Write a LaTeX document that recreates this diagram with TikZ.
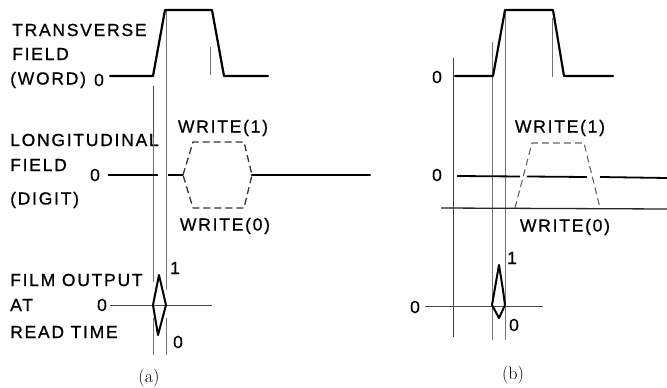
\documentclass[tikz,border=0pt]{standalone}
\usepackage{fontspec}
\setsansfont{Liberation Sans}[LetterSpace=10,FakeBold=0.8]
\begin{document}
\begin{tikzpicture}[x=1pt,y=-1pt,
  wave/.style={line width=2.2pt, line join=round, line cap=round, black},
  mid/.style={line width=1.8pt, black},
  guide/.style={line width=0.9pt, black!55},
  dsh/.style={line width=1.3pt, black!80, dash pattern=on 7pt off 4pt, line join=round},
  lbl/.style={font=\sffamily\fontsize{17.5}{20}\selectfont, inner sep=0pt, anchor=west},
  dig/.style={font=\sffamily\fontsize{17.5}{20}\selectfont, inner sep=0pt},
  captxt/.style={font=\rmfamily\fontsize{18}{20}\selectfont, inner sep=0pt}]
\useasboundingbox (0,0) rectangle (667,388);
\fill[white] (0,0) rectangle (667,388);

% ---------------- panel (a) ----------------
% left labels
\node[lbl] (ta1) at (12,30) {TRANSVERSE};
\node[lbl] (ta2) at (12,54) {FIELD};
\node[lbl] (ta3) at (10,80) {(WORD)};
\node[dig] (ta0) at (99,80) {0};
\node[lbl] (la1) at (10,140) {LONGITUDINAL};
\node[lbl] (la2) at (10,165) {FIELD};
\node[lbl] (la3) at (10,200) {(DIGIT)};
\node[dig] (la0) at (95,175) {0};
\node[lbl] (fa1) at (10,280) {FILM OUTPUT};
\node[lbl] (fa2) at (10,305) {AT};
\node[lbl] (fa3) at (10,332) {READ TIME};
\node[dig] (fa0) at (102,305) {0};

% guide lines
\draw[line width=1pt, green!45!black] (153,86) -- (153,137);
\draw[guide] (153,137) -- (153,282);
\draw[guide] (153,318) -- (153,355);
\draw[guide] (166,10) -- (166,290);
\draw[guide] (166,318) -- (166,355);
\draw[guide] (210,47) -- (210,75);

% transverse waveform
\draw[wave] (110,76) -- (153,76) -- (165,10) -- (212,10) -- (224,76) -- (268,76);

% longitudinal
\draw[mid] (108,175) -- (158,175);
\draw[mid] (168,175) -- (183,175);
\draw[dsh] (183,175) -- (193,142) -- (244,142) -- (252,175) -- (244,208) -- (193,208) -- cycle;
\draw[wave] (252,175) -- (370,175);
\node[dig] (wa1) at (223,128) {WRITE(1)};
\node[dig] (wa0) at (225,226) {WRITE(0)};

% film output
\draw[line width=1pt, black!70] (110,305) -- (212,305);
\draw[wave, line width=2pt] (159,275) -- (166,305) -- (158,335) -- (153,305) -- cycle;
\node[dig] (fa1v) at (175,268) {1};
\node[dig] (fa0v) at (178,342) {0};

\node[captxt] (capa) at (149,378) {(a)};

% ---------------- panel (b) ----------------
\node[dig] (tb0) at (437,77) {0};
\node[dig] (lb0) at (437,175) {0};
\node[dig] (fb0) at (415,307) {0};

% guide lines
\draw[guide, black!75] (453,58) -- (453,337);
\draw[guide] (492,42) -- (492,340);
\draw[guide] (505,10) -- (505,340);
\draw[guide] (552,18) -- (552,77);

% transverse waveform
\draw[wave] (455,76) -- (493,76) -- (505,10) -- (553,10) -- (564,76) -- (613,76);

% longitudinal
\draw[mid] (457,176) -- (520,176.5);
\draw[mid] (527,176.5) -- (587,177);
\draw[mid] (600,177) -- (667,178);
\draw[line width=1.3pt, black!85] (441,208) -- (667,209);
\draw[dsh, black!60, line width=1.1pt] (515,208) -- (532,143) -- (584,143) -- (600,208);
\node[dig] (wb1) at (560,128) {WRITE(1)};
\node[dig] (wb0) at (565,227) {WRITE(0)};

% film output
\draw[line width=1pt, black!70] (425,306) -- (543,306);
\draw[wave, line width=2pt] (492,305) -- (499,265) -- (503,290) -- (505,305) -- (499,318) -- cycle;
\node[dig] (fb1v) at (512,258) {1};
\node[dig] (fb0v) at (514,325) {0};

\node[captxt] (capb) at (513,375) {(b)};
\end{tikzpicture}
\end{document}
